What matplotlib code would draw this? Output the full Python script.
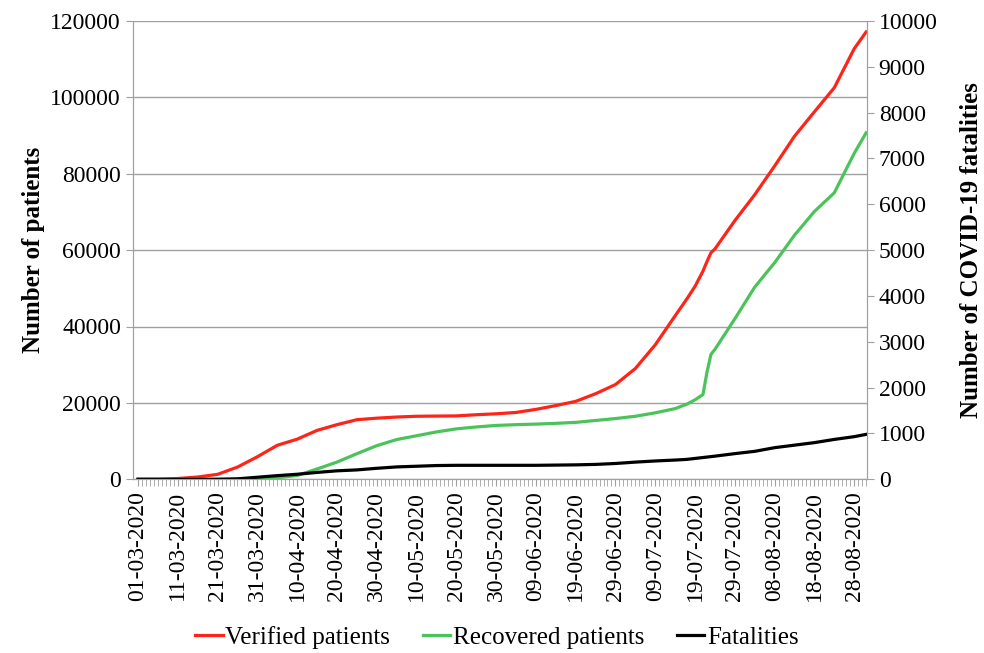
import numpy as np
import pandas as pd
import matplotlib
matplotlib.use('Agg')
import matplotlib.pyplot as plt

plt.rcParams['font.family'] = ['Liberation Serif', 'DejaVu Serif']

# days since 01-03-2020
day_offsets = [0, 5, 10, 15, 20, 25, 30, 35, 40, 45, 50, 55, 60, 65, 70, 75,
               80, 85, 90, 95, 100, 105, 110, 115, 120, 125, 130, 135, 138,
               140, 142, 143, 144, 145, 150, 155, 160, 165, 170, 175, 180, 183]
verified = [0, 0, 200, 600, 1300, 3200, 5900, 8900, 10500, 12800, 14300,
            15600, 16000, 16300, 16500, 16550, 16600, 16900, 17150, 17500,
            18300, 19300, 20400, 22400, 24800, 29000, 35200, 42800, 47300,
            50500, 54500, 57000, 59300, 60300, 67700, 74500, 82000, 89800,
            96200, 102500, 112700, 117100]
recovered = [0, 0, 0, 0, 0, 50, 150, 400, 1000, 2700, 4500, 6700, 8800,
             10400, 11400, 12400, 13200, 13700, 14100, 14300, 14450, 14650,
             14900, 15400, 15900, 16500, 17400, 18500, 19700, 20800, 22200,
             28000, 32700, 34000, 42000, 50300, 56700, 63900, 70100, 75000,
             85300, 90700]
fatalities = [0, 0, 0, 0, 0, 10, 45, 80, 110, 150, 185, 205, 240, 270, 285,
              300, 305, 305, 305, 305, 305, 310, 315, 325, 345, 375, 400, 420,
              435, 455, 475, 485, 495, 505, 560, 610, 690, 745, 800, 870, 930,
              980]

start = pd.Timestamp('2020-03-01')
dates = start + pd.to_timedelta(day_offsets, unit='D')

fig = plt.figure(figsize=(9.84, 6.53), dpi=100)
ax = fig.add_axes([0.135, 0.266, 0.746, 0.702])
ax2 = ax.twinx()

grid_c = '#a0a0a0'
l1, = ax.plot(dates, verified, color='#ff2418', lw=2.3, label='Verified patients')
l2, = ax.plot(dates, recovered, color='#4cc35a', lw=2.3, label='Recovered patients')
l3, = ax2.plot(dates, fatalities, color='black', lw=2.3, label='Fatalities')

ax.set_ylim(0, 120000)
ax.set_yticks(np.arange(0, 120001, 20000))
ax2.set_ylim(0, 10000)
ax2.set_yticks(np.arange(0, 10001, 1000))
ax.yaxis.grid(True, color=grid_c, lw=1)
ax.set_axisbelow(True)

ax.set_xlim(start - pd.Timedelta(days=1.3), start + pd.Timedelta(days=183.2))
tick_dates = pd.date_range(start, '2020-08-28', freq='10D')
ax.set_xticks(tick_dates)
ax.set_xticklabels([d.strftime('%d-%m-%Y') for d in tick_dates], rotation=90)
ax.set_xticks(pd.date_range(start, '2020-08-31', freq='D'), minor=True)

for a in (ax, ax2):
    a.spines['top'].set_visible(False)
    for s in ('left', 'right', 'bottom'):
        a.spines[s].set_color(grid_c)
    a.tick_params(axis='both', which='both', color=grid_c, length=5,
                  labelsize=17, direction='out')
ax.tick_params(axis='x', which='minor', length=5)

ax.set_ylabel('Number of patients', fontsize=18, fontweight='bold', labelpad=4)
ax2.set_ylabel('Number of COVID-19 fatalities', fontsize=18, fontweight='bold',
               labelpad=16)

fig.legend(handles=[l1, l2, l3], loc='lower center', bbox_to_anchor=(0.505, -0.028),
           ncol=3, frameon=False, fontsize=18, handlelength=1.1,
           handletextpad=0.1, columnspacing=1.3)

fig.savefig('out.png', dpi=100)
